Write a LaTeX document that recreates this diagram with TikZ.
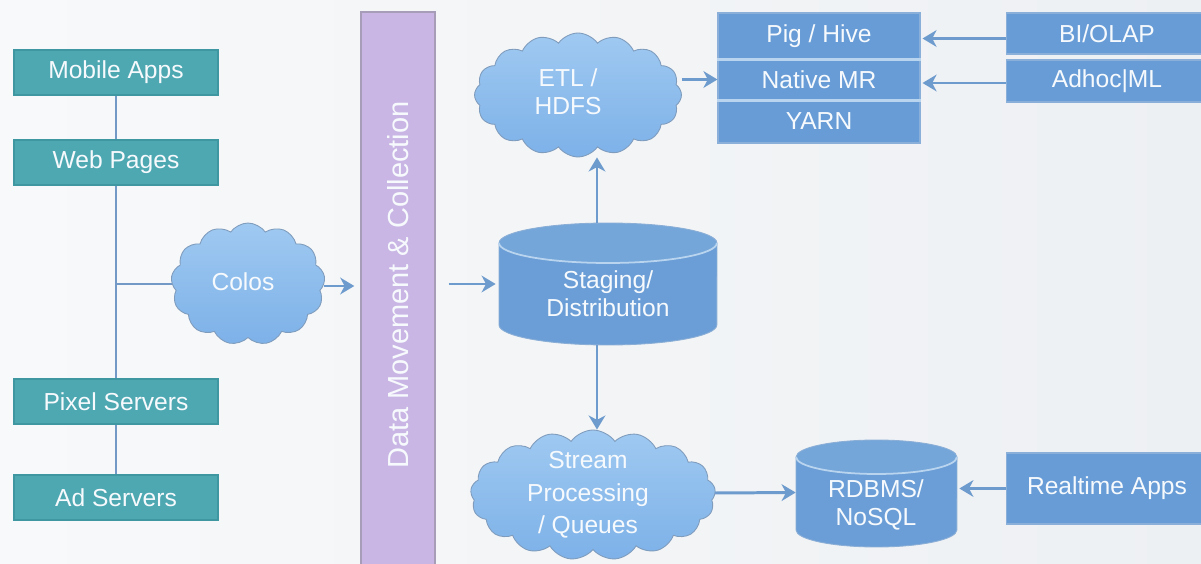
\documentclass[tikz,border=0pt]{standalone}
\usepackage{fontspec}
\setmainfont{Liberation Sans}
\usetikzlibrary{shapes.symbols,arrows.meta,calc}

\definecolor{srcteal}{HTML}{4EA8B2}
\definecolor{srcedge}{HTML}{3F97A2}
\definecolor{boxblue}{HTML}{689CD6}
\definecolor{boxedge}{HTML}{8AB0DA}
\definecolor{cloudtop}{HTML}{9FC9F1}
\definecolor{cloudbot}{HTML}{7DB1E8}
\definecolor{cloudedge}{HTML}{7F9CBD}
\definecolor{barfill}{HTML}{C9B6E4}
\definecolor{baredge}{HTML}{A79DB8}
\definecolor{flowblue}{HTML}{6E9BCD}
\definecolor{linkblue}{HTML}{7399C6}
\definecolor{dbbodyc}{HTML}{6B9ED6}
\definecolor{dbtopc}{HTML}{74A6DA}
\definecolor{dbrimc}{HTML}{B9D4EF}
\definecolor{dbedgec}{HTML}{8AAED6}
\definecolor{bgleft}{HTML}{F8F9FA}
\definecolor{bgright}{HTML}{EDF0F3}
\definecolor{softwhite}{HTML}{F7FAFD}

% cylinder: left x, right x, top-ellipse y, bottom-ellipse y, y radius (cm)
\newcommand\drawdb[5]{%
  \pgfmathsetmacro\dbrx{(#2-#1)*0.01}%
  \fill[dbbodyc] (#1,#3) -- (#1,#4)
    arc[start angle=180,end angle=360,x radius=\dbrx cm,y radius=#5cm]
    -- (#2,#3) -- cycle;
  \draw[dbedgec,line width=0.5pt] (#1,#3) -- (#1,#4)
    arc[start angle=180,end angle=360,x radius=\dbrx cm,y radius=#5cm]
    -- (#2,#3);
  \fill[dbtopc] ({(#1+#2)/2},#3) ellipse[x radius=\dbrx cm,y radius=#5cm];
  \draw[dbedgec,line width=0.5pt] ({(#1+#2)/2},#3) ellipse[x radius=\dbrx cm,y radius=#5cm];
  \draw[dbrimc,line width=1pt] (#1,#3)
    arc[start angle=180,end angle=360,x radius=\dbrx cm,y radius=#5cm];
}

\begin{document}
\begin{tikzpicture}[x=0.02cm,y=-0.02cm,
  txt/.style={text=softwhite,font=\fontsize{14}{16}\selectfont},
  srcbox/.style={rectangle,fill=srcteal,draw=srcedge,line width=0.6pt,txt,
    minimum width=4.08cm,minimum height=0.9cm,inner sep=0pt},
  appbox/.style={rectangle,fill=boxblue,draw=boxedge,line width=0.6pt,txt,
    minimum width=4.04cm,inner sep=0pt},
  cloudshape/.style={cloud,cloud puffs=16,cloud puff arc=110,aspect=1.4,
    draw=cloudedge,line width=0.5pt,top color=cloudtop,bottom color=cloudbot,
    inner sep=0pt},
  lbl/.style={txt,align=center},
  place/.style={rectangle,inner sep=0pt},
  flow/.style={draw=flowblue,line width=1.7pt,
    -{Stealth[length=8pt,width=9.5pt,inset=2.5pt]}},
  linkline/.style={draw=linkblue,line width=1.3pt}
]
\useasboundingbox (0,0) rectangle (1201,564);
\clip (0,0) rectangle (1201,564);
\shade[left color=bgleft,right color=bgright] (0,0) rectangle (1201,564);

% sources
\node[srcbox] (mobile) at (116,72.5)  {Mobile Apps};
\node[srcbox] (web)    at (116,162.5) {Web Pages};
\node[srcbox] (pixel)  at (116,401.5) {Pixel Servers};
\node[srcbox] (ad)     at (116,497.5) {Ad Servers};

% colos cloud
\node[cloudshape,cloud puffs=13,minimum width=3.08cm,minimum height=2.44cm] (colos) at (248,284) {};
\node[lbl] (colostext) at (243,282) {Colos};

% collection bar
\node[rectangle,fill=barfill,draw=baredge,line width=0.8pt,
  minimum width=1.48cm,minimum height=11.36cm,inner sep=0pt] (bar) at (398,296) {};
\node[txt,font=\fontsize{16.5}{18}\selectfont,rotate=90] (bartext) at (398,285)
  {Data Movement \& Collection};

% staging store
\node[place,minimum width=4.36cm,minimum height=2.44cm] (stg) at (608,284) {};
\drawdb{499}{717}{243}{325}{0.4}
\node[lbl] (stgtext) at (608,294) {Staging/\\Distribution};

% ETL cloud
\node[cloudshape,minimum width=4.14cm,minimum height=2.48cm] (etl) at (578,95) {};
\node[lbl] (etltext) at (568,92) {ETL /\\HDFS};

% processing stack
\node[appbox,minimum height=0.92cm] (pig)  at (819,36)    {Pig / Hive};
\node[appbox,minimum height=0.82cm] (mr)   at (819,79.5)  {Native MR};
\node[appbox,minimum height=0.86cm] (yarn) at (819,121.5) {YARN};
\draw[dbrimc,line width=1.2pt] (pig.south west) -- (pig.south east);
\draw[dbrimc,line width=1.2pt] (mr.south west) -- (mr.south east);

% consumers
\node[appbox,minimum height=0.82cm] (bi)     at (1107,33.5) {BI/OLAP};
\node[appbox,minimum height=0.84cm] (adhoc)  at (1107,81)   {Adhoc|ML};
\node[appbox,minimum height=1.42cm] (rtapps) at (1107,488.5) {Realtime Apps};

% stream cloud
\node[cloudshape,cloud puffs=17,minimum width=4.9cm,minimum height=2.6cm] (stream) at (593,495) {};
\node[lbl,font=\fontsize{14}{18.5}\selectfont] (streamtext) at (588,495)
  {Stream\\Processing\\/ Queues};

% serving store
\node[place,minimum width=3.22cm,minimum height=2.14cm] (db) at (876.5,493.5) {};
\drawdb{796}{957}{457}{530}{0.34}
\node[lbl] (dbtext) at (876,505) {RDBMS/\\NoSQL};

% source tree
\coordinate (junction) at (mobile.south |- colos.west);
\draw[linkline] (mobile.south) -- (web.north);
\draw[linkline] (web.south) -- (pixel.north);
\draw[linkline] (pixel.south) -- (ad.north);
\draw[linkline] (junction) -- (colos.west);

% flows
\draw[flow,shorten >=0.12cm] ($(colos.east)+(0,2)$) -- ($(colos.east -| bar.west)+(0,2)$);
\draw[flow,shorten <=0.26cm,shorten >=0.06cm] (stg.west -| bar.east) -- (stg.west);
\draw[flow] (stg.north -| 597,0) -- (etl.south -| 597,0);
\draw[flow] (stg.south -| 597,0) -- (stream.north -| 597,0);
\draw[flow] (mr.west -| etl.east) -- (mr.west);
\draw[flow,shorten >=0.04cm] ($(bi.west)+(0,5)$) -- ($(bi.west -| pig.east)+(0,5)$);
\draw[flow,shorten >=0.04cm] ($(adhoc.west)+(0,2)$) -- ($(adhoc.west -| mr.east)+(0,2)$);
\draw[flow] ($(stream.east)+(0,-2)$) -- ($(db.west)+(0,-1)$);
\draw[flow,shorten >=0.04cm] (rtapps.west) -- (rtapps.west -| db.east);
\end{tikzpicture}
\end{document}
